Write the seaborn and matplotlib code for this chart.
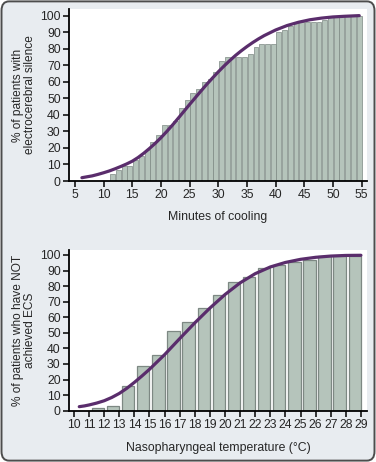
import matplotlib
matplotlib.use('Agg')
import matplotlib.pyplot as plt
from matplotlib.patches import FancyBboxPatch
import seaborn as sns

sns.set_style("white")
plt.rcParams['font.family'] = ['Liberation Sans', 'DejaVu Sans']

# top panel: cumulative % with electrocerebral silence per minute of cooling
minutes = list(range(11, 55))
silence_pct = [4.3, 6.5, 8.8, 8.8, 12.9, 14.9, 19, 23.5, 27.6, 34,
               34, 36.4, 44.4, 49, 53.5, 55.5, 59.8, 61.8, 66, 72.5,
               74.7, 74.7, 74.7, 74.7, 76.7, 81, 83, 83, 83, 89.8,
               91.6, 94, 96, 96, 96, 96, 96, 97.6, 100, 100,
               100, 100, 100, 100]
fit_min = [6.2, 7, 8, 9, 10, 11, 12, 13, 14, 15, 16, 17, 18, 19, 20, 21, 22,
           23, 24, 25, 26, 27, 28, 29, 30, 31, 32, 33, 34, 35, 36, 37, 38,
           40, 42, 44, 46, 48, 50, 52, 54.6]
fit_min_pct = [2.0, 2.5, 3.1, 4.0, 5.0, 6.1, 7.4, 8.8, 10.3, 12, 14.2, 16.8,
               19.7, 22.8, 26.2, 29.9, 33.8, 37.9, 42.1, 46.3, 50.4, 54.5,
               58.5, 62.3, 66, 69.5, 72.8, 75.9, 78.7, 81.3, 83.7, 85.9,
               87.9, 91.3, 94, 96, 97.5, 98.5, 99.2, 99.6, 100]

# bottom panel: % not yet achieved ECS per nasopharyngeal temperature
temps = list(range(11, 29))
not_ecs_pct = [1.5, 3, 16, 28.7, 35.5, 51.4, 57.2, 65.7, 74.3, 82.9,
               85.9, 91.4, 93.4, 95.7, 97, 99.4, 99.4, 99.4]
fit_temp = [10.35, 10.7, 11, 11.5, 12, 12.5, 13, 13.5, 14, 14.5, 15, 16,
            17, 18, 19, 20, 21, 22, 23, 24, 25, 26, 27, 28, 29]
fit_temp_pct = [2.6, 3.1, 3.7, 4.9, 6.4, 8.5, 11.1, 14.4, 18.2, 22.3, 26.6,
                36, 46.3, 56.4, 65.9, 74.6, 82.1, 88, 92.3, 95.2, 97.2,
                98.5, 99.3, 99.7, 99.8]

bar_fill = '#b5c4bb'
bar_edge = '#7d8883'
curve = '#5a2d6c'
panel_bg = '#e8ecf0'

fig = plt.figure(figsize=(3.76, 4.62), dpi=100)
fig.patch.set_facecolor('white')
fig.patches.append(FancyBboxPatch((0.004, 0.003), 0.992, 0.994,
                                  boxstyle='round,pad=0,rounding_size=0.02',
                                  transform=fig.transFigure, facecolor=panel_bg,
                                  edgecolor='#4d4d4d', linewidth=1.4, zorder=-5))

ax1 = fig.add_axes([0.1835, 0.6082, 0.7925, 0.3723])
ax2 = fig.add_axes([0.1835, 0.111, 0.7925, 0.3479])


def style(ax):
    ax.set_facecolor('white')
    sns.despine(ax=ax)
    for side in ['left', 'bottom']:
        ax.spines[side].set_color('black')
        ax.spines[side].set_linewidth(1.3)
    ax.tick_params(axis='both', which='both', direction='out', length=4,
                   width=1.1, color='black', labelsize=8.8, pad=2,
                   left=True, bottom=True)


# top chart
ax1.bar([m + 1 for m in minutes], silence_pct, width=-0.85, align='edge',
        color=bar_fill, edgecolor=bar_edge, linewidth=0.5)
sns.lineplot(x=fit_min, y=fit_min_pct, color=curve, linewidth=2.3, ax=ax1)
ax1.set_xlim(3.95, 55.95)
ax1.set_ylim(0, 104)
ax1.set_xticks(range(5, 56, 5))
ax1.set_yticks(range(0, 101, 10))
style(ax1)
ax1.set_xlabel('Minutes of cooling', fontsize=8.8)
ax1.set_ylabel('% of patients with\nelectrocerebral silence', fontsize=8.6,
               linespacing=1.0)
ax1.xaxis.set_label_coords(0.5, -0.175)
ax1.yaxis.set_label_coords(-0.112, 0.5)

# bottom chart
ax2.bar([t + 1 for t in temps], not_ecs_pct, width=-0.82, align='edge',
        color=bar_fill, edgecolor=bar_edge, linewidth=0.9)
sns.lineplot(x=fit_temp, y=fit_temp_pct, color=curve, linewidth=2.3, ax=ax2)
ax2.set_xlim(9.67, 29.4)
ax2.set_ylim(0, 103.2)
ax2.set_xticks(range(10, 30))
ax2.set_yticks(range(0, 101, 10))
style(ax2)
ax2.set_xlabel('Nasopharyngeal temperature (°C)', fontsize=8.8)
ax2.set_ylabel('% of patients who have NOT\nachieved ECS', fontsize=8.6,
               linespacing=1.0)
ax2.xaxis.set_label_coords(0.5, -0.195)
ax2.yaxis.set_label_coords(-0.112, 0.5)

fig.savefig('out.png', dpi=100, facecolor=fig.get_facecolor())
